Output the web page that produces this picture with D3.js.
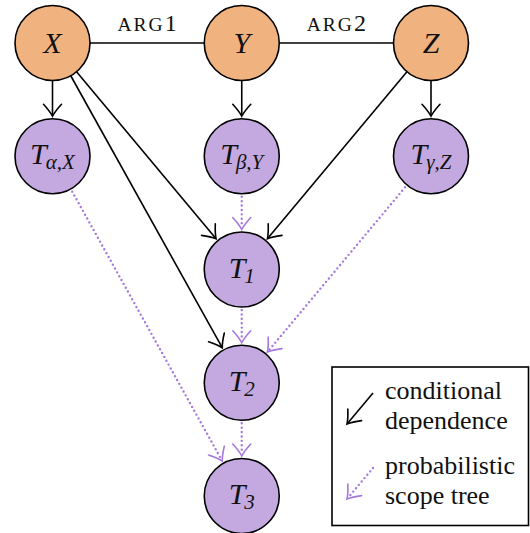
<!DOCTYPE html>
<html><head><meta charset="utf-8">
<script src="https://cdn.jsdelivr.net/npm/d3@7"></script>
<style>html,body{margin:0;padding:0;background:#fff;}svg{display:block;}svg text{font-family:"Liberation Serif",serif;}</style>
</head><body>
<svg id="chart" width="530" height="533"></svg>
<script>
// ---- data ----
const nodeIds   = ["X","Y","Z","Ta","Tb","Tg","T1","T2","T3"];
const nodeMain  = ["X","Y","Z","T","T","T","T","T","T"];
const nodeSub   = ["","","","α,X","β,Y","γ,Z","1","2","3"];
const nodeCol   = [0,1,2,0,1,2,1,1,1];
const nodeRow   = [0,0,0,1,1,1,2,3,4];
const nodeKind  = ["var","var","var","tree","tree","tree","tree","tree","tree"];
const argEdges  = [["X","Y","ARG","1"],["Y","Z","ARG","2"]];
const depEdges  = [["X","Ta"],["Y","Tb"],["Z","Tg"],["X","T1"],["X","T2"],["Z","T1"]];
const scopeEdges= [["Tb","T1"],["T1","T2"],["T2","T3"],["Tg","T2"],["Ta","T3"]];
const legendKinds  = ["dep","scope"];
const legendLabels = [["conditional","dependence"],["probabilistic","scope tree"]];

// ---- styling ----
const colors = {var:"#F0B27F", tree:"#C4A9E0", scope:"#A479DD"};
const R = 37.5;
const svg = d3.select("#chart");
const x = d3.scaleLinear().domain([0,2]).range([52.5,431]);
const y = d3.scaleLinear().domain([0,4]).range([43,496]);
const nodes = nodeIds.map((id,i)=>({id, main:nodeMain[i], sub:nodeSub[i], kind:nodeKind[i], cx:x(nodeCol[i]), cy:y(nodeRow[i])}));
const byId = Object.fromEntries(nodes.map(n=>[n.id,n]));
const FONT = "Liberation Serif";

function headPath(px,py,ux,uy){
  const nx=-uy, ny=ux, L=12, W=9;
  const a=[px-L*ux+W*nx, py-L*uy+W*ny], b=[px-L*ux-W*nx, py-L*uy-W*ny];
  const c1=[px-5*ux+2.6*nx, py-5*uy+2.6*ny], c2=[px-5*ux-2.6*nx, py-5*uy-2.6*ny];
  return `M${a[0]},${a[1]}Q${c1[0]},${c1[1]} ${px},${py}Q${c2[0]},${c2[1]} ${b[0]},${b[1]}`;
}
function seg(s,t){
  const dx=t.cx-s.cx, dy=t.cy-s.cy, d=Math.hypot(dx,dy), ux=dx/d, uy=dy/d;
  return {x1:s.cx+ux*R, y1:s.cy+uy*R, x2:t.cx-ux*(R+2.5), y2:t.cy-uy*(R+2.5), ux, uy};
}

const gEdges = svg.append("g");
// arg edges
argEdges.forEach(([a,b,lab,num])=>{
  const s=byId[a], t=byId[b];
  gEdges.append("line").attr("x1",s.cx+R).attr("y1",s.cy).attr("x2",t.cx-R).attr("y2",t.cy)
    .attr("stroke","#000").attr("stroke-width",1.6);
  const tx=gEdges.append("text").attr("x",(s.cx+t.cx)/2).attr("y",31).attr("text-anchor","middle")
    .attr("font-family",FONT).attr("fill","#111");
  tx.append("tspan").attr("font-size",19.5).attr("letter-spacing",2).text(lab);
  tx.append("tspan").attr("font-size",24).text(num);
});
// dependency edges
depEdges.forEach(([a,b])=>{
  const g=seg(byId[a],byId[b]);
  gEdges.append("line").attr("x1",g.x1).attr("y1",g.y1).attr("x2",g.x2-g.ux*1).attr("y2",g.y2-g.uy*1)
    .attr("stroke","#000").attr("stroke-width",1.6);
  gEdges.append("path").attr("d",headPath(g.x2,g.y2,g.ux,g.uy)).attr("fill","none")
    .attr("stroke","#000").attr("stroke-width",1.6).attr("stroke-linecap","round");
});
// scope edges
scopeEdges.forEach(([a,b])=>{
  const g=seg(byId[a],byId[b]);
  gEdges.append("line").attr("x1",g.x1+g.ux*3).attr("y1",g.y1+g.uy*3).attr("x2",g.x2-g.ux*2).attr("y2",g.y2-g.uy*2)
    .attr("stroke",colors.scope).attr("stroke-width",2.4).attr("stroke-dasharray","0 4.4").attr("stroke-linecap","round");
  gEdges.append("path").attr("d",headPath(g.x2,g.y2,g.ux,g.uy)).attr("fill","none")
    .attr("stroke",colors.scope).attr("stroke-width",1.6).attr("stroke-linecap","round");
});

// nodes
const gN = svg.append("g").selectAll("g").data(nodes).join("g");
gN.append("circle").attr("cx",d=>d.cx).attr("cy",d=>d.cy).attr("r",R)
  .attr("fill",d=>colors[d.kind]).attr("stroke","#000").attr("stroke-width",1.6);
gN.each(function(d){
  const t=d3.select(this).append("text").attr("x",d.cx).attr("y",d.cy+(d.sub?8:9.5))
    .attr("text-anchor","middle").attr("font-family",FONT).attr("font-style","italic").attr("fill","#111");
  t.append("tspan").attr("font-size",30).text(d.main);
  if(d.sub){
    t.append("tspan").attr("font-size",21).attr("dy",5).attr("dx",-1).text(d.sub);
  }
});

// legend
const lg = svg.append("g");
lg.append("rect").attr("x",332).attr("y",367).attr("width",196.5).attr("height",158.5)
  .attr("fill","#fff").attr("stroke","#000").attr("stroke-width",1.6);
legendKinds.forEach((k,i)=>{
  const y0 = 393 + i*75;
  const sx=373, sy=y0, tx=347, ty=y0+31;
  const dx=tx-sx, dy=ty-sy, d=Math.hypot(dx,dy), ux=dx/d, uy=dy/d;
  const col = k==="dep" ? "#000" : colors.scope;
  const ln = lg.append("line").attr("x1",sx).attr("y1",sy).attr("x2",tx-ux).attr("y2",ty-uy).attr("stroke",col);
  if(k==="dep") ln.attr("stroke-width",1.6);
  else ln.attr("stroke-width",2.4).attr("stroke-dasharray","0 4.4").attr("stroke-linecap","round");
  lg.append("path").attr("d",headPath(tx,ty,ux,uy)).attr("fill","none").attr("stroke",col)
    .attr("stroke-width",1.6).attr("stroke-linecap","round");
  legendLabels[i].forEach((s,j)=>{
    lg.append("text").attr("x",385).attr("y",399+i*75+j*30).attr("font-family",FONT)
      .attr("font-size",26).attr("fill","#111").text(s);
  });
});
</script>
</body></html>
